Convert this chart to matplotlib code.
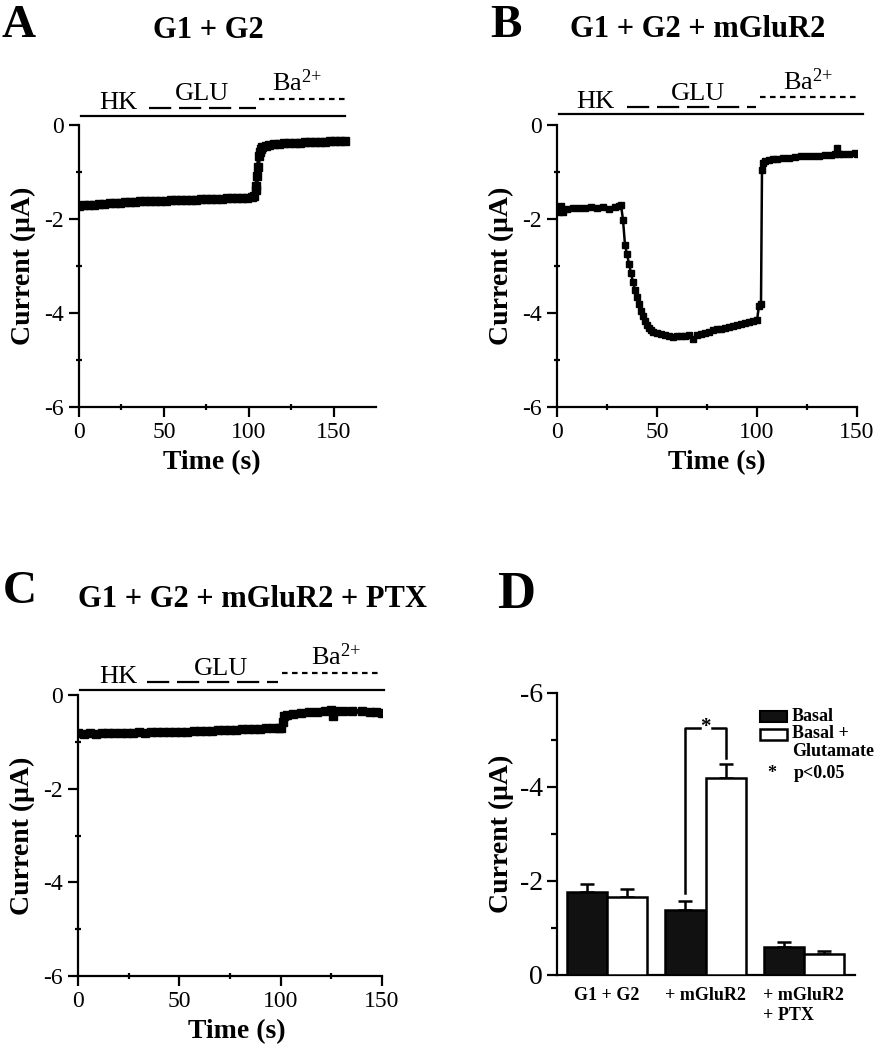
import matplotlib
matplotlib.use('Agg')
import matplotlib.pyplot as plt
from matplotlib.patches import Rectangle

plt.rcParams['font.family'] = ['Liberation Serif', 'DejaVu Serif']
plt.rcParams['mathtext.fontset'] = 'custom'
plt.rcParams['mathtext.rm'] = 'Liberation Serif'
plt.rcParams['axes.linewidth'] = 1.6

# ---- traces (time s, current uA) ----
tA = [0, 3, 6, 9, 12, 15, 18, 21, 24, 27, 30, 33, 36, 39, 42, 45, 48, 51, 54, 57,
      60, 63, 66, 69, 72, 75, 78, 81, 84, 87, 90, 93, 96, 99, 102, 103, 104, 104.5,
      105, 105.5, 106, 106.5, 107, 108, 110, 112, 115, 118, 121, 124, 127, 130,
      133, 136, 139, 142, 145, 148, 151, 154, 157]
iA = [-1.72, -1.71, -1.71, -1.70, -1.69, -1.68, -1.67, -1.66, -1.65, -1.64, -1.63,
      -1.63, -1.62, -1.62, -1.62, -1.61, -1.61, -1.61, -1.60, -1.60, -1.60, -1.59,
      -1.59, -1.59, -1.58, -1.58, -1.58, -1.57, -1.57, -1.56, -1.56, -1.56, -1.55,
      -1.55, -1.54, -1.52, -1.38, -1.30, -1.08, -0.90, -0.66, -0.58, -0.52, -0.47,
      -0.44, -0.42, -0.41, -0.40, -0.39, -0.39, -0.38, -0.38, -0.37, -0.37, -0.37,
      -0.36, -0.36, -0.35, -0.35, -0.35, -0.34]

tB = [0, 1, 2, 3, 5, 8, 11, 14, 17, 20, 23, 26, 29, 31, 32, 33, 34, 35, 36, 37,
      38, 39, 40, 41, 42, 43, 44, 45, 46, 47, 48, 50, 52, 54, 56, 58, 60, 62, 64,
      66, 68, 70, 72, 74, 76, 78, 80, 82, 84, 86, 88, 90, 92, 94, 96, 98, 100,
      101, 102, 102.5, 103, 104, 106, 108, 110, 113, 116, 119, 122, 125, 128,
      131, 134, 137, 139, 140, 141, 143, 146, 149, 150]
iB = [-1.80, -1.85, -1.72, -1.85, -1.78, -1.77, -1.77, -1.76, -1.75, -1.76, -1.75,
      -1.78, -1.74, -1.73, -1.70, -2.02, -2.55, -2.75, -2.95, -3.15, -3.35, -3.50,
      -3.65, -3.80, -3.95, -4.07, -4.17, -4.25, -4.32, -4.37, -4.40, -4.42, -4.45,
      -4.47, -4.48, -4.50, -4.49, -4.48, -4.48, -4.47, -4.55, -4.46, -4.45, -4.43,
      -4.40, -4.37, -4.35, -4.33, -4.32, -4.30, -4.28, -4.26, -4.24, -4.22, -4.20,
      -4.18, -4.15, -3.85, -3.80, -0.95, -0.80, -0.76, -0.74, -0.73, -0.72, -0.71,
      -0.70, -0.69, -0.67, -0.67, -0.66, -0.65, -0.64, -0.63, -0.62, -0.48, -0.62,
      -0.62, -0.61, -0.60, -0.61]

tC = [0, 3, 6, 9, 12, 15, 18, 21, 24, 27, 30, 33, 36, 39, 42, 45, 48, 51, 54, 57,
      60, 63, 66, 69, 72, 75, 78, 81, 84, 87, 90, 93, 96, 99, 100, 101, 101.5, 103,
      106, 110, 114, 118, 122, 125, 126, 127, 131, 135, 140, 144, 147, 150]
iC = [-0.82, -0.83, -0.82, -0.84, -0.82, -0.82, -0.81, -0.82, -0.81, -0.82, -0.80,
      -0.81, -0.80, -0.79, -0.80, -0.79, -0.80, -0.78, -0.78, -0.77, -0.77, -0.76,
      -0.76, -0.75, -0.75, -0.74, -0.74, -0.73, -0.73, -0.72, -0.72, -0.71, -0.71,
      -0.70, -0.70, -0.58, -0.45, -0.42, -0.41, -0.39, -0.37, -0.36, -0.34, -0.33,
      -0.45, -0.34, -0.34, -0.35, -0.35, -0.37, -0.37, -0.38]

# protocol segments: HK (solid), GLU (dashed), Ba (dotted) as (start, end) times
protoA = [(1, 157), (41, 104), (106, 157)]
protoB = [(1, 153), (35, 99.5), (101.5, 151.5)]
protoC = [(1, 151), (34, 98.5), (100.5, 149.5)]
labelsA = [23, 72.5, 128.5]
labelsB = [19, 70.5, 125.5]
labelsC = [20, 70.5, 127.5]

# ---- bar summary (panel D) ----
groups = ['G1 + G2', '+ mGluR2', '+ mGluR2\n+ PTX']
basal = [-1.77, -1.38, -0.60]
basal_err = [0.17, 0.19, 0.10]
glut = [-1.66, -4.19, -0.45]
glut_err = [0.17, 0.30, 0.06]

W, H = 880, 1050
fig = plt.figure(figsize=(W / 100, H / 100), dpi=100)


def px_rect(left, top, right, bottom):
    return [left / W, 1 - bottom / H, (right - left) / W, (bottom - top) / H]


def ftext(x, y, s, **kw):
    fig.text(x / W, 1 - y / H, s, va='baseline', **kw)


def trace_axis(rect, t, i, xmax, proto, lab_x, ys, lab_ys, xlab_pos, lw, ms):
    ax = fig.add_axes(px_rect(*rect))
    ax.plot(t, i, color='k', lw=lw, marker='s', ms=ms, mec='k', mfc='k')
    ax.set_xlim(0, xmax)
    ax.set_ylim(-6, 0)
    ax.set_xticks([0, 50, 100, 150])
    ax.set_xticks([25, 75, 125], minor=True)
    ax.set_yticks([0, -2, -4, -6])
    ax.set_yticks([-1, -3, -5], minor=True)
    ax.set_yticklabels(['0', '-2', '-4', '-6'])
    for s in ('top', 'right'):
        ax.spines[s].set_visible(False)
    ax.tick_params(which='major', direction='out', length=7, width=1.6,
                   labelsize=17, pad=4)
    ax.tick_params(which='minor', direction='inout', length=5, width=1.6)
    ax.set_xlabel('Time (s)', fontsize=20, fontweight='bold', labelpad=5)
    ax.xaxis.label.set_x(xlab_pos)
    ax.set_ylabel('Current (μA)', fontsize=20, fontweight='bold', labelpad=6)

    styles = ['-', (0, (10, 3.5)), (0, (2.5, 2))]
    for (a, b), ls, y in zip(proto, styles, ys):
        ax.plot([a, b], [y, y], color='k', lw=1.6, ls=ls, clip_on=False)
    for x, s, y in zip(lab_x, ['HK', 'GLU', r'$\mathregular{Ba^{2{+}}}$'], lab_ys):
        ax.text(x, y, s, fontsize=19, ha='center', va='baseline', clip_on=False)
    return ax


axA = trace_axis((79, 125, 376, 407), tA, iA, 175, protoA, labelsA,
                 [0.19, 0.36, 0.55], [0.34, 0.53, 0.72], 0.448, 3, 6)
axB = trace_axis((557, 125, 857, 407), tB, iB, 150, protoB, labelsB,
                 [0.23, 0.38, 0.60], [0.36, 0.53, 0.74], 0.533, 1.8, 5)
axC = trace_axis((78, 695, 382, 976), tC, iC, 150, protoC, labelsC,
                 [0.11, 0.28, 0.47], [0.26, 0.43, 0.64], 0.523, 3.5, 6)

# ---- panel D ----
axD = fig.add_axes(px_rect(557, 693, 855, 975))
x = [1, 2, 3]
w = 0.41
xb = [v - w / 2 for v in x]
xg = [v + w / 2 for v in x]
axD.bar(xb, basal, width=w, color='#111111', edgecolor='k', lw=1.8, zorder=3)
axD.bar(xg, glut, width=w, color='white', edgecolor='k', lw=1.8, zorder=3)
axD.errorbar(xb, basal, yerr=[basal_err, [0] * 3], fmt='none', ecolor='k',
             elinewidth=1.8, capsize=5, capthick=1.8, zorder=2)
axD.errorbar(xg, glut, yerr=[glut_err, [0] * 3], fmt='none', ecolor='k',
             elinewidth=1.8, capsize=5, capthick=1.8, zorder=2)
axD.set_xlim(0.49, 3.52)
axD.set_ylim(0, -6)
axD.set_yticks([0, -2, -4, -6])
axD.set_yticks([-1, -3, -5], minor=True)
axD.set_yticklabels(['0', '-2', '-4', '-6'])
axD.set_xticks(x)
axD.set_xticklabels(groups, fontsize=13, fontweight='bold', multialignment='left')
for s in ('top', 'right'):
    axD.spines[s].set_visible(False)
axD.tick_params(axis='y', which='major', direction='out', length=7, width=1.6,
                labelsize=20, pad=3)
axD.tick_params(axis='y', which='minor', direction='out', length=4, width=1.6)
axD.tick_params(axis='x', length=0, pad=9)
axD.set_ylabel('Current (μA)', fontsize=20, fontweight='bold', labelpad=4)

# significance bracket
yb = -5.26
axD.plot([xb[1], xb[1], 1.94], [-1.74, yb, yb], color='k', lw=1.8)
axD.plot([2.07, xg[1], xg[1]], [yb, yb, -4.62], color='k', lw=1.8)
axD.text(2.0, -5.28, '*', fontsize=15, fontweight='bold', ha='center', va='center')

# legend
tr = axD.transAxes
axD.add_patch(Rectangle((0.681, 0.897), 0.091, 0.039, transform=tr,
                        facecolor='#111111', edgecolor='k', lw=1.5, clip_on=False))
axD.add_patch(Rectangle((0.681, 0.833), 0.091, 0.039, transform=tr,
                        facecolor='white', edgecolor='k', lw=1.8, clip_on=False))
lk = dict(transform=tr, fontsize=13, fontweight='bold', va='center', ha='left')
axD.text(0.789, 0.918, 'Basal', **lk)
axD.text(0.789, 0.856, 'Basal +', **lk)
axD.text(0.789, 0.791, 'Glutamate', **lk)
axD.text(0.705, 0.715, '*', **lk)
axD.text(0.795, 0.716, 'p<0.05', **lk)

# ---- titles & panel letters ----
ftext(2, 37, 'A', fontsize=34, fontweight='bold')
ftext(490, 37, 'B', fontsize=34, fontweight='bold')
ftext(3, 603, 'C', fontsize=34, fontweight='bold')
ftext(497, 608, 'D', fontsize=38, fontweight='bold')
ftext(208, 38, 'G1 + G2', fontsize=22, fontweight='bold', ha='center')
ftext(698, 37, 'G1 + G2 + mGluR2', fontsize=22, fontweight='bold', ha='center')
ftext(252, 607, 'G1 + G2 + mGluR2 + PTX', fontsize=22, fontweight='bold', ha='center')

fig.savefig('out.png', dpi=100, facecolor='white')
